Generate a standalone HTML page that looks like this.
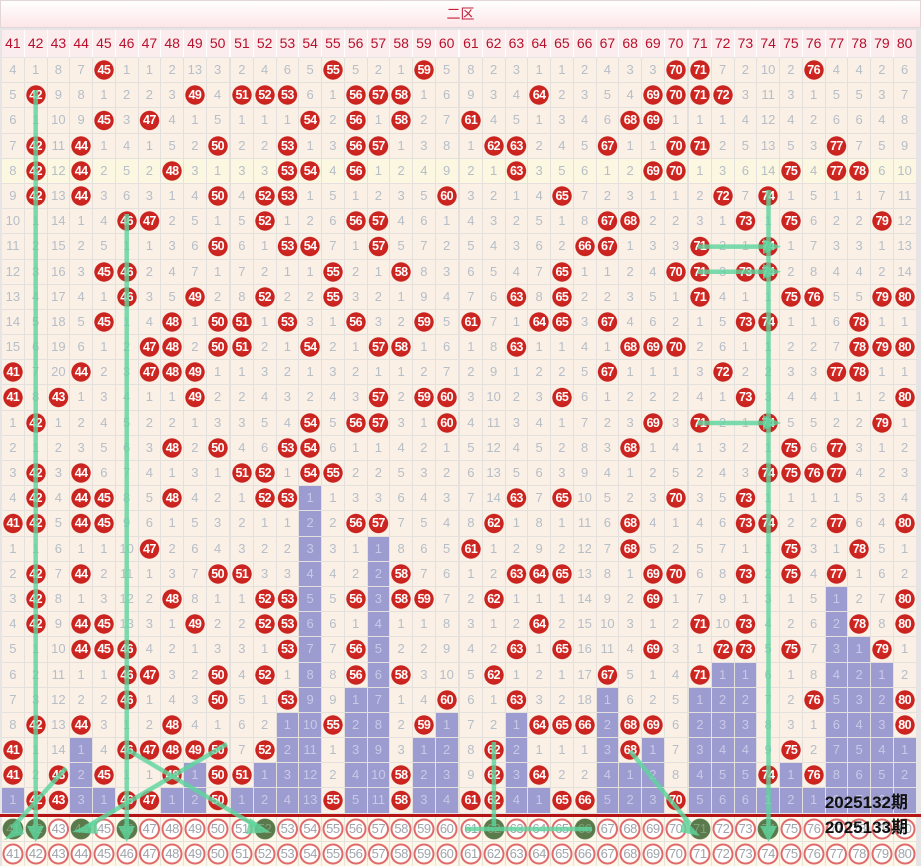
<!DOCTYPE html>
<html><head><meta charset="utf-8"><style>
*{margin:0;padding:0;box-sizing:border-box}
body{width:921px;height:866px;background:#e6e4e4;position:relative;overflow:hidden;font-family:"Liberation Sans","Noto Sans CJK SC",sans-serif}
.t{position:absolute;left:0;top:0;width:921px;height:28px;background:linear-gradient(#fff,#fde6e8);border:1px solid #e2d6d8;text-align:center;color:#c0203a;font-size:14px;line-height:27px}
.g{position:absolute;left:2px;display:grid;column-gap:1px;row-gap:1px;background:#e3e0dd;
grid-template-columns:repeat(10,21.76px) 23.26px repeat(9,21.76px) 23.26px repeat(9,21.76px) 23.26px repeat(9,21.76px)}
.g>*:nth-child(40n+11),.g>*:nth-child(40n+21),.g>*:nth-child(40n+31){margin-left:1.5px}
.g>*{display:block;text-align:center;font-style:normal;text-decoration:none;font-weight:normal}
.h{top:30px;grid-auto-rows:27px;background:#fff}
.h>i{background:#fbecee;color:#b8102c;font-size:14px;line-height:27px}
.d{top:58px;grid-auto-rows:24.2px}
.d>*{font-size:13px;line-height:24.2px;color:#b6bec8;background-color:#faf0e6}
.d>b{background-image:radial-gradient(circle 10px at 50% 50%,#d82c26 0,#c8221e 9.3px,rgba(200,34,30,0) 10px);color:#fff;font-weight:bold;font-size:12.5px;letter-spacing:-0.6px}
.d>u{background-color:#9c9cd0;color:#c9c9e8}
.d>*:nth-child(n+161):nth-child(-n+200){background-color:#fcf7e0}
.r{position:absolute;left:0;top:814px;width:921px;height:3px;background:#b41414}
.bt{top:817px;grid-auto-rows:23.8px;background:#e6e2dc}
.bt>s{text-decoration:none;background:#fdf8ea radial-gradient(circle 11px at 50% 50%,#fff 0,#fff 8.2px,#e06a6a 8.8px,#e06a6a 10.2px,rgba(224,106,106,0) 10.8px);color:#a0a4aa;font-size:13px;line-height:23.8px;letter-spacing:-0.5px}
.bt>s.f{background:#fdf8ea radial-gradient(circle 11px at 50% 50%,#5a7a4c 0,#5a7a4c 10px,rgba(90,122,76,0) 10.8px);color:#7fa07a}
svg{position:absolute;left:0;top:0}
</style></head><body>
<div class="t">二区</div>
<div class="g h"><i>41</i><i>42</i><i>43</i><i>44</i><i>45</i><i>46</i><i>47</i><i>48</i><i>49</i><i>50</i><i>51</i><i>52</i><i>53</i><i>54</i><i>55</i><i>56</i><i>57</i><i>58</i><i>59</i><i>60</i><i>61</i><i>62</i><i>63</i><i>64</i><i>65</i><i>66</i><i>67</i><i>68</i><i>69</i><i>70</i><i>71</i><i>72</i><i>73</i><i>74</i><i>75</i><i>76</i><i>77</i><i>78</i><i>79</i><i>80</i></div>
<div class="g d">
<i>4</i><i>1</i><i>8</i><i>7</i><b>45</b><i>1</i><i>1</i><i>2</i><i>13</i><i>3</i><i>2</i><i>4</i><i>6</i><i>5</i><b>55</b><i>5</i><i>2</i><i>1</i><b>59</b><i>5</i><i>8</i><i>2</i><i>3</i><i>1</i><i>1</i><i>2</i><i>4</i><i>3</i><i>3</i><b>70</b><b>71</b><i>7</i><i>2</i><i>10</i><i>2</i><b>76</b><i>4</i><i>4</i><i>2</i><i>6</i>
<i>5</i><b>42</b><i>9</i><i>8</i><i>1</i><i>2</i><i>2</i><i>3</i><b>49</b><i>4</i><b>51</b><b>52</b><b>53</b><i>6</i><i>1</i><b>56</b><b>57</b><b>58</b><i>1</i><i>6</i><i>9</i><i>3</i><i>4</i><b>64</b><i>2</i><i>3</i><i>5</i><i>4</i><b>69</b><b>70</b><b>71</b><b>72</b><i>3</i><i>11</i><i>3</i><i>1</i><i>5</i><i>5</i><i>3</i><i>7</i>
<i>6</i><i>1</i><i>10</i><i>9</i><b>45</b><i>3</i><b>47</b><i>4</i><i>1</i><i>5</i><i>1</i><i>1</i><i>1</i><b>54</b><i>2</i><b>56</b><i>1</i><b>58</b><i>2</i><i>7</i><b>61</b><i>4</i><i>5</i><i>1</i><i>3</i><i>4</i><i>6</i><b>68</b><b>69</b><i>1</i><i>1</i><i>1</i><i>4</i><i>12</i><i>4</i><i>2</i><i>6</i><i>6</i><i>4</i><i>8</i>
<i>7</i><b>42</b><i>11</i><b>44</b><i>1</i><i>4</i><i>1</i><i>5</i><i>2</i><b>50</b><i>2</i><i>2</i><b>53</b><i>1</i><i>3</i><b>56</b><b>57</b><i>1</i><i>3</i><i>8</i><i>1</i><b>62</b><b>63</b><i>2</i><i>4</i><i>5</i><b>67</b><i>1</i><i>1</i><b>70</b><b>71</b><i>2</i><i>5</i><i>13</i><i>5</i><i>3</i><b>77</b><i>7</i><i>5</i><i>9</i>
<i>8</i><b>42</b><i>12</i><b>44</b><i>2</i><i>5</i><i>2</i><b>48</b><i>3</i><i>1</i><i>3</i><i>3</i><b>53</b><b>54</b><i>4</i><b>56</b><i>1</i><i>2</i><i>4</i><i>9</i><i>2</i><i>1</i><b>63</b><i>3</i><i>5</i><i>6</i><i>1</i><i>2</i><b>69</b><b>70</b><i>1</i><i>3</i><i>6</i><i>14</i><b>75</b><i>4</i><b>77</b><b>78</b><i>6</i><i>10</i>
<i>9</i><b>42</b><i>13</i><b>44</b><i>3</i><i>6</i><i>3</i><i>1</i><i>4</i><b>50</b><i>4</i><b>52</b><b>53</b><i>1</i><i>5</i><i>1</i><i>2</i><i>3</i><i>5</i><b>60</b><i>3</i><i>2</i><i>1</i><i>4</i><b>65</b><i>7</i><i>2</i><i>3</i><i>1</i><i>1</i><i>2</i><b>72</b><i>7</i><b>74</b><i>1</i><i>5</i><i>1</i><i>1</i><i>7</i><i>11</i>
<i>10</i><i>1</i><i>14</i><i>1</i><i>4</i><b>46</b><b>47</b><i>2</i><i>5</i><i>1</i><i>5</i><b>52</b><i>1</i><i>2</i><i>6</i><b>56</b><b>57</b><i>4</i><i>6</i><i>1</i><i>4</i><i>3</i><i>2</i><i>5</i><i>1</i><i>8</i><b>67</b><b>68</b><i>2</i><i>2</i><i>3</i><i>1</i><b>73</b><i>1</i><b>75</b><i>6</i><i>2</i><i>2</i><b>79</b><i>12</i>
<i>11</i><i>2</i><i>15</i><i>2</i><i>5</i><i>1</i><i>1</i><i>3</i><i>6</i><b>50</b><i>6</i><i>1</i><b>53</b><b>54</b><i>7</i><i>1</i><b>57</b><i>5</i><i>7</i><i>2</i><i>5</i><i>4</i><i>3</i><i>6</i><i>2</i><b>66</b><b>67</b><i>1</i><i>3</i><i>3</i><b>71</b><i>2</i><i>1</i><b>74</b><i>1</i><i>7</i><i>3</i><i>3</i><i>1</i><i>13</i>
<i>12</i><i>3</i><i>16</i><i>3</i><b>45</b><b>46</b><i>2</i><i>4</i><i>7</i><i>1</i><i>7</i><i>2</i><i>1</i><i>1</i><b>55</b><i>2</i><i>1</i><b>58</b><i>8</i><i>3</i><i>6</i><i>5</i><i>4</i><i>7</i><b>65</b><i>1</i><i>1</i><i>2</i><i>4</i><b>70</b><b>71</b><i>3</i><b>73</b><b>74</b><i>2</i><i>8</i><i>4</i><i>4</i><i>2</i><i>14</i>
<i>13</i><i>4</i><i>17</i><i>4</i><i>1</i><b>46</b><i>3</i><i>5</i><b>49</b><i>2</i><i>8</i><b>52</b><i>2</i><i>2</i><b>55</b><i>3</i><i>2</i><i>1</i><i>9</i><i>4</i><i>7</i><i>6</i><b>63</b><i>8</i><b>65</b><i>2</i><i>2</i><i>3</i><i>5</i><i>1</i><b>71</b><i>4</i><i>1</i><i>1</i><b>75</b><b>76</b><i>5</i><i>5</i><b>79</b><b>80</b>
<i>14</i><i>5</i><i>18</i><i>5</i><b>45</b><i>1</i><i>4</i><b>48</b><i>1</i><b>50</b><b>51</b><i>1</i><b>53</b><i>3</i><i>1</i><b>56</b><i>3</i><i>2</i><b>59</b><i>5</i><b>61</b><i>7</i><i>1</i><b>64</b><b>65</b><i>3</i><b>67</b><i>4</i><i>6</i><i>2</i><i>1</i><i>5</i><b>73</b><b>74</b><i>1</i><i>1</i><i>6</i><b>78</b><i>1</i><i>1</i>
<i>15</i><i>6</i><i>19</i><i>6</i><i>1</i><i>2</i><b>47</b><b>48</b><i>2</i><b>50</b><b>51</b><i>2</i><i>1</i><b>54</b><i>2</i><i>1</i><b>57</b><b>58</b><i>1</i><i>6</i><i>1</i><i>8</i><b>63</b><i>1</i><i>1</i><i>4</i><i>1</i><b>68</b><b>69</b><b>70</b><i>2</i><i>6</i><i>1</i><i>1</i><i>2</i><i>2</i><i>7</i><b>78</b><b>79</b><b>80</b>
<b>41</b><i>7</i><i>20</i><b>44</b><i>2</i><i>3</i><b>47</b><b>48</b><b>49</b><i>1</i><i>1</i><i>3</i><i>2</i><i>1</i><i>3</i><i>2</i><i>1</i><i>1</i><i>2</i><i>7</i><i>2</i><i>9</i><i>1</i><i>2</i><i>2</i><i>5</i><b>67</b><i>1</i><i>1</i><i>1</i><i>3</i><b>72</b><i>2</i><i>2</i><i>3</i><i>3</i><b>77</b><b>78</b><i>1</i><i>1</i>
<b>41</b><i>8</i><b>43</b><i>1</i><i>3</i><i>4</i><i>1</i><i>1</i><b>49</b><i>2</i><i>2</i><i>4</i><i>3</i><i>2</i><i>4</i><i>3</i><b>57</b><i>2</i><b>59</b><b>60</b><i>3</i><i>10</i><i>2</i><i>3</i><b>65</b><i>6</i><i>1</i><i>2</i><i>2</i><i>2</i><i>4</i><i>1</i><b>73</b><i>3</i><i>4</i><i>4</i><i>1</i><i>1</i><i>2</i><b>80</b>
<i>1</i><b>42</b><i>1</i><i>2</i><i>4</i><i>5</i><i>2</i><i>2</i><i>1</i><i>3</i><i>3</i><i>5</i><i>4</i><b>54</b><i>5</i><b>56</b><b>57</b><i>3</i><i>1</i><b>60</b><i>4</i><i>11</i><i>3</i><i>4</i><i>1</i><i>7</i><i>2</i><i>3</i><b>69</b><i>3</i><b>71</b><i>2</i><i>1</i><b>74</b><i>5</i><i>5</i><i>2</i><i>2</i><b>79</b><i>1</i>
<i>2</i><i>1</i><i>2</i><i>3</i><i>5</i><i>6</i><i>3</i><b>48</b><i>2</i><b>50</b><i>4</i><i>6</i><b>53</b><b>54</b><i>6</i><i>1</i><i>1</i><i>4</i><i>2</i><i>1</i><i>5</i><i>12</i><i>4</i><i>5</i><i>2</i><i>8</i><i>3</i><b>68</b><i>1</i><i>4</i><i>1</i><i>3</i><i>2</i><i>1</i><b>75</b><i>6</i><b>77</b><i>3</i><i>1</i><i>2</i>
<i>3</i><b>42</b><i>3</i><b>44</b><i>6</i><i>7</i><i>4</i><i>1</i><i>3</i><i>1</i><b>51</b><b>52</b><i>1</i><b>54</b><b>55</b><i>2</i><i>2</i><i>5</i><i>3</i><i>2</i><i>6</i><i>13</i><i>5</i><i>6</i><i>3</i><i>9</i><i>4</i><i>1</i><i>2</i><i>5</i><i>2</i><i>4</i><i>3</i><b>74</b><b>75</b><b>76</b><b>77</b><i>4</i><i>2</i><i>3</i>
<i>4</i><b>42</b><i>4</i><b>44</b><b>45</b><i>8</i><i>5</i><b>48</b><i>4</i><i>2</i><i>1</i><b>52</b><b>53</b><u>1</u><i>1</i><i>3</i><i>3</i><i>6</i><i>4</i><i>3</i><i>7</i><i>14</i><b>63</b><i>7</i><b>65</b><i>10</i><i>5</i><i>2</i><i>3</i><b>70</b><i>3</i><i>5</i><b>73</b><i>1</i><i>1</i><i>1</i><i>1</i><i>5</i><i>3</i><i>4</i>
<b>41</b><b>42</b><i>5</i><b>44</b><b>45</b><i>9</i><i>6</i><i>1</i><i>5</i><i>3</i><i>2</i><i>1</i><i>1</i><u>2</u><i>2</i><b>56</b><b>57</b><i>7</i><i>5</i><i>4</i><i>8</i><b>62</b><i>1</i><i>8</i><i>1</i><i>11</i><i>6</i><b>68</b><i>4</i><i>1</i><i>4</i><i>6</i><b>73</b><b>74</b><i>2</i><i>2</i><b>77</b><i>6</i><i>4</i><b>80</b>
<i>1</i><i>1</i><i>6</i><i>1</i><i>1</i><i>10</i><b>47</b><i>2</i><i>6</i><i>4</i><i>3</i><i>2</i><i>2</i><u>3</u><i>3</i><i>1</i><u>1</u><i>8</i><i>6</i><i>5</i><b>61</b><i>1</i><i>2</i><i>9</i><i>2</i><i>12</i><i>7</i><b>68</b><i>5</i><i>2</i><i>5</i><i>7</i><i>1</i><i>1</i><b>75</b><i>3</i><i>1</i><b>78</b><i>5</i><i>1</i>
<i>2</i><b>42</b><i>7</i><b>44</b><i>2</i><i>11</i><i>1</i><i>3</i><i>7</i><b>50</b><b>51</b><i>3</i><i>3</i><u>4</u><i>4</i><i>2</i><u>2</u><b>58</b><i>7</i><i>6</i><i>1</i><i>2</i><b>63</b><b>64</b><b>65</b><i>13</i><i>8</i><i>1</i><b>69</b><b>70</b><i>6</i><i>8</i><b>73</b><i>2</i><b>75</b><i>4</i><b>77</b><i>1</i><i>6</i><i>2</i>
<i>3</i><b>42</b><i>8</i><i>1</i><i>3</i><i>12</i><i>2</i><b>48</b><i>8</i><i>1</i><i>1</i><b>52</b><b>53</b><u>5</u><i>5</i><b>56</b><u>3</u><b>58</b><b>59</b><i>7</i><i>2</i><b>62</b><i>1</i><i>1</i><i>1</i><i>14</i><i>9</i><i>2</i><b>69</b><i>1</i><i>7</i><i>9</i><i>1</i><i>3</i><i>1</i><i>5</i><u>1</u><i>2</i><i>7</i><b>80</b>
<i>4</i><b>42</b><i>9</i><b>44</b><b>45</b><i>13</i><i>3</i><i>1</i><b>49</b><i>2</i><i>2</i><b>52</b><b>53</b><u>6</u><i>6</i><i>1</i><u>4</u><i>1</i><i>1</i><i>8</i><i>3</i><i>1</i><i>2</i><b>64</b><i>2</i><i>15</i><i>10</i><i>3</i><i>1</i><i>2</i><b>71</b><i>10</i><b>73</b><i>4</i><i>2</i><i>6</i><u>2</u><b>78</b><i>8</i><b>80</b>
<i>5</i><i>1</i><i>10</i><b>44</b><b>45</b><b>46</b><i>4</i><i>2</i><i>1</i><i>3</i><i>3</i><i>1</i><b>53</b><u>7</u><i>7</i><b>56</b><u>5</u><i>2</i><i>2</i><i>9</i><i>4</i><i>2</i><b>63</b><i>1</i><b>65</b><i>16</i><i>11</i><i>4</i><b>69</b><i>3</i><i>1</i><b>72</b><b>73</b><i>5</i><b>75</b><i>7</i><u>3</u><u>1</u><b>79</b><i>1</i>
<i>6</i><i>2</i><i>11</i><i>1</i><i>1</i><b>46</b><b>47</b><i>3</i><i>2</i><b>50</b><i>4</i><b>52</b><i>1</i><u>8</u><i>8</i><b>56</b><u>6</u><b>58</b><i>3</i><i>10</i><i>5</i><b>62</b><i>1</i><i>2</i><i>1</i><i>17</i><b>67</b><i>5</i><i>1</i><i>4</i><b>71</b><u>1</u><u>1</u><i>6</i><i>1</i><i>8</i><u>4</u><u>2</u><u>1</u><i>2</i>
<i>7</i><i>3</i><i>12</i><i>2</i><i>2</i><b>46</b><i>1</i><i>4</i><i>3</i><b>50</b><i>5</i><i>1</i><b>53</b><u>9</u><i>9</i><u>1</u><u>7</u><i>1</i><i>4</i><b>60</b><i>6</i><i>1</i><b>63</b><i>3</i><i>2</i><i>18</i><u>1</u><i>6</i><i>2</i><i>5</i><u>1</u><u>2</u><u>2</u><i>7</i><i>2</i><b>76</b><u>5</u><u>3</u><u>2</u><b>80</b>
<i>8</i><b>42</b><i>13</i><b>44</b><i>3</i><i>1</i><i>2</i><b>48</b><i>4</i><i>1</i><i>6</i><i>2</i><u>1</u><u>10</u><b>55</b><u>2</u><u>8</u><i>2</i><b>59</b><u>1</u><i>7</i><i>2</i><u>1</u><b>64</b><b>65</b><b>66</b><u>2</u><b>68</b><b>69</b><i>6</i><u>2</u><u>3</u><u>3</u><i>8</i><i>3</i><i>1</i><u>6</u><u>4</u><u>3</u><b>80</b>
<b>41</b><i>1</i><i>14</i><u>1</u><i>4</i><b>46</b><b>47</b><b>48</b><b>49</b><b>50</b><i>7</i><b>52</b><u>2</u><u>11</u><i>1</i><u>3</u><u>9</u><i>3</i><u>1</u><u>2</u><i>8</i><b>62</b><u>2</u><i>1</i><i>1</i><i>1</i><u>3</u><b>68</b><u>1</u><i>7</i><u>3</u><u>4</u><u>4</u><i>9</i><b>75</b><i>2</i><u>7</u><u>5</u><u>4</u><u>1</u>
<b>41</b><i>2</i><b>43</b><u>2</u><b>45</b><i>1</i><i>1</i><b>48</b><u>1</u><b>50</b><b>51</b><u>1</u><u>3</u><u>12</u><i>2</i><u>4</u><u>10</u><b>58</b><u>2</u><u>3</u><i>9</i><b>62</b><u>3</u><b>64</b><i>2</i><i>2</i><u>4</u><u>1</u><u>2</u><i>8</i><u>4</u><u>5</u><u>5</u><b>74</b><u>1</u><b>76</b><u>8</u><u>6</u><u>5</u><u>2</u>
<u>1</u><b>42</b><b>43</b><u>3</u><u>1</u><b>46</b><b>47</b><u>1</u><u>2</u><b>50</b><u>1</u><u>2</u><u>4</u><u>13</u><b>55</b><u>5</u><u>11</u><b>58</b><u>3</u><u>4</u><b>61</b><b>62</b><u>4</u><u>1</u><b>65</b><b>66</b><u>5</u><u>2</u><u>3</u><b>70</b><u>5</u><u>6</u><u>6</u><u>1</u><u>2</u><u>1</u><u>9</u><u>7</u><u>6</u><u>3</u>
</div>
<div class="r"></div>
<div class="g bt">
<s class="f">41</s><s class="f">42</s><s>43</s><s class="f">44</s><s>45</s><s class="f">46</s><s>47</s><s>48</s><s>49</s><s>50</s><s>51</s><s class="f">52</s><s>53</s><s>54</s><s>55</s><s>56</s><s>57</s><s>58</s><s>59</s><s>60</s><s>61</s><s class="f">62</s><s>63</s><s>64</s><s>65</s><s class="f">66</s><s>67</s><s>68</s><s>69</s><s>70</s><s class="f">71</s><s>72</s><s>73</s><s class="f">74</s><s>75</s><s>76</s><s>77</s><s>78</s><s>79</s><s>80</s>
<s>41</s><s>42</s><s>43</s><s>44</s><s>45</s><s>46</s><s>47</s><s>48</s><s>49</s><s>50</s><s>51</s><s>52</s><s>53</s><s>54</s><s>55</s><s>56</s><s>57</s><s>58</s><s>59</s><s>60</s><s>61</s><s>62</s><s>63</s><s>64</s><s>65</s><s>66</s><s>67</s><s>68</s><s>69</s><s>70</s><s>71</s><s>72</s><s>73</s><s>74</s><s>75</s><s>76</s><s>77</s><s>78</s><s>79</s><s>80</s>
</div>
<svg width="921" height="866" viewBox="0 0 921 866">
<g stroke="#5fd49e" stroke-width="4.5" stroke-opacity="0.82" fill="none">
<line x1="35.7" y1="90" x2="35.7" y2="826"/>
<line x1="126.7" y1="214" x2="126.7" y2="826"/>
<line x1="768.5" y1="190" x2="768.5" y2="826"/>
<line x1="698" y1="246.6" x2="765" y2="246.6"/>
<line x1="698" y1="271.8" x2="765" y2="271.8"/>
<line x1="698" y1="423" x2="765" y2="423"/>
<line x1="66" y1="768" x2="12" y2="828"/>
<line x1="227" y1="744" x2="88" y2="826"/>
<line x1="128" y1="750" x2="256" y2="826"/>
<line x1="493.9" y1="742" x2="493.9" y2="826"/>
<line x1="466" y1="829" x2="592" y2="829"/>
<line x1="630" y1="751" x2="690" y2="824"/>
</g>
<g fill="#5fd49e" fill-opacity="0.82">
<polygon points="27,826 44,826 35.7,842"/>
<polygon points="118,826 135,826 126.7,842"/>
<polygon points="760,826 777,826 768.5,842"/>
<polygon points="763,239 763,254 781,246.6"/>
<polygon points="763,264 763,279 781,271.8"/>
<polygon points="763,415 763,430 781,423"/>
<polygon points="20,822 4,840 10,840 4,840 24,834"/>
<polygon points="96,820 72,832 98,834"/>
<polygon points="250,818 270,832 246,834"/>
<polygon points="684,818 700,836 680,832"/>
</g>
<text x="908" y="808" text-anchor="end" font-family="Liberation Sans,Noto Sans CJK SC,sans-serif" font-weight="bold" font-size="17" fill="#111">2025132期</text>
<text x="908" y="833" text-anchor="end" font-family="Liberation Sans,Noto Sans CJK SC,sans-serif" font-weight="bold" font-size="17" fill="#111">2025133期</text>
</svg>
</body></html>
